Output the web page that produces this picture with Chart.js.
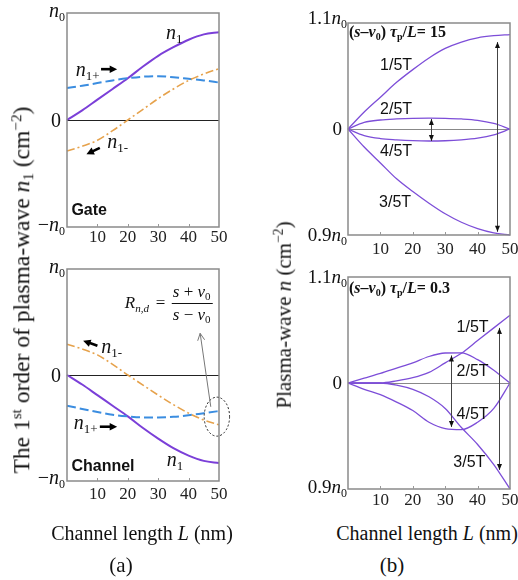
<!DOCTYPE html>
<html><head><meta charset="utf-8">
<script src="https://cdn.jsdelivr.net/npm/chart.js@4.4.0/dist/chart.umd.min.js"></script>
<style>
html,body{margin:0;padding:0;background:#fff;}
body{width:518px;height:580px;position:relative;overflow:hidden;color:#111;}
canvas{position:absolute;}
.t{position:absolute;white-space:nowrap;font-family:"Liberation Serif","Times New Roman",serif;color:#111;line-height:1;}
.sub{font-size:65%;vertical-align:-0.25em;}
.sup{font-size:65%;vertical-align:0.55em;}
</style></head><body>
<canvas id="c1" width="232" height="258" style="left:0;top:0"></canvas>
<canvas id="c2" width="232" height="258" style="left:0;top:256px"></canvas>
<canvas id="c3" width="240" height="258" style="left:290px;top:0"></canvas>
<canvas id="c4" width="240" height="262" style="left:290px;top:258px"></canvas>

<div class="t" style="left:22px;top:290px;font-size:23.5px;transform:translate(-50%,-50%) rotate(-90deg)">The 1<span class="sup">st</span> order of plasma-wave <i>n</i><span class="sub">1</span> (cm<span class="sup">−2</span>)</div>
<div class="t" style="left:283px;top:315px;font-size:21px;transform:translate(-50%,-50%) rotate(-90deg)">Plasma-wave <i>n</i> (cm<span class="sup">−2</span>)</div>
<div class="t" style="left:142px;top:533px;font-size:20px;transform:translate(-50%,-50%)">Channel length <i>L</i> (nm)</div>
<div class="t" style="left:427px;top:533px;font-size:20px;transform:translate(-50%,-50%)">Channel length <i>L</i> (nm)</div>
<div class="t" style="left:121px;top:565px;font-size:21px;transform:translate(-50%,-50%)">(a)</div>
<div class="t" style="left:392px;top:565px;font-size:21px;transform:translate(-50%,-50%)">(b)</div>

<script>
// ---------- data ----------
const L = [0, 5, 10, 15, 20, 25, 30, 35, 40, 45, 50];
const xTickLabels = [10, 20, 30, 40, 50];

// (a) Gate, values in units of n0
const gateN1  = [0, 0.09, 0.19, 0.29, 0.39, 0.50, 0.60, 0.68, 0.75, 0.80, 0.82];
const gateN1p = [0.30, 0.32, 0.345, 0.37, 0.39, 0.405, 0.41, 0.40, 0.385, 0.37, 0.35];
const gateN1m = [-0.29, -0.245, -0.19, -0.10, 0, 0.10, 0.20, 0.29, 0.37, 0.43, 0.48];
// (a) Channel
const chanN1  = [0, -0.09, -0.19, -0.29, -0.39, -0.50, -0.60, -0.69, -0.76, -0.81, -0.83];
const chanN1p = [-0.29, -0.32, -0.35, -0.375, -0.39, -0.40, -0.40, -0.395, -0.38, -0.36, -0.34];
const chanN1m = [0.29, 0.245, 0.19, 0.10, 0, -0.095, -0.19, -0.28, -0.36, -0.425, -0.47];

// (b) (s-v0)tau/L = 15, n / n0
const hiT1 = [1.000, 1.016, 1.030, 1.044, 1.056, 1.067, 1.076, 1.082, 1.086, 1.088, 1.089];
const hiT2 = [1.000, 1.0062, 1.0085, 1.0095, 1.0101, 1.0103, 1.0101, 1.0095, 1.0082, 1.0052, 1.000];
const hiT3 = [1.000, 0.983, 0.968, 0.953, 0.941, 0.930, 0.920, 0.912, 0.906, 0.902, 0.900];
const hiT4 = [1.000, 0.9938, 0.991, 0.9898, 0.989, 0.9887, 0.9889, 0.9897, 0.9913, 0.9945, 1.000];
// (b) (s-v0)tau/L = 0.3
const loT1 = [1.000, 1.000, 1.000, 1.002, 1.005, 1.010, 1.019, 1.028, 1.040, 1.052, 1.064];
const loT2 = [1.000, 1.0045, 1.009, 1.014, 1.019, 1.025, 1.0283, 1.0285, 1.022, 1.012, 1.000];
const loT3 = [1.000, 1.000, 1.000, 0.998, 0.994, 0.987, 0.976, 0.958, 0.942, 0.923, 0.900];
const loT4 = [1.000, 0.994, 0.989, 0.982, 0.974, 0.963, 0.957, 0.956, 0.963, 0.976, 1.000];

// ---------- helpers ----------
const SERIF = '"Liberation Serif","Times New Roman",serif';
const SANS = '"Liberation Sans",Arial,sans-serif';
function fontStr(p) {
  return (p.i ? 'italic ' : '') + (p.b ? 'bold ' : '') + p.s + 'px ' + (p.sans ? SANS : SERIF);
}
function drawRich(ctx, x, y, parts, align) {
  let w = 0;
  parts.forEach(p => { ctx.font = fontStr(p); w += ctx.measureText(p.t).width + (p.dx || 0); });
  let cx = align === 'right' ? x - w : (align === 'center' ? x - w / 2 : x);
  ctx.textBaseline = 'alphabetic'; ctx.textAlign = 'left';
  parts.forEach(p => {
    ctx.font = fontStr(p); cx += (p.dx || 0);
    ctx.fillText(p.t, cx, y + (p.dy || 0));
    cx += ctx.measureText(p.t).width;
  });
  return w;
}
function head(ctx, x1, y1, x2, y2, len, wid) {
  const a = Math.atan2(y2 - y1, x2 - x1), c = Math.cos(a), s = Math.sin(a);
  ctx.beginPath(); ctx.moveTo(x2, y2);
  ctx.lineTo(x2 - len * c + wid / 2 * s, y2 - len * s - wid / 2 * c);
  ctx.lineTo(x2 - len * c - wid / 2 * s, y2 - len * s + wid / 2 * c);
  ctx.closePath(); ctx.fill();
}

const n0 = (s) => [{t: 'n', i: 1, s: s}, {t: '0', s: Math.round(s * 0.62), dy: 4}];
const tx = (t, s, o) => Object.assign({t, s}, o || {});

const DECO = {
  c1: {
    zero: 0, zeroColor: '#222',
    yLabels: [
      {v: 1, parts: n0(20), dy: 4, gap: 2},
      {v: 0, parts: [tx('0', 20)], dy: 7, gap: 6},
      {v: -1, parts: [tx('−', 20)].concat(n0(20)), dy: 4, gap: 2}
    ],
    texts: [
      {x: 32.6, y: 0.76, parts: [tx('n', 20, {i: 1}), tx('1', 13, {dy: 4})]},
      {x: 2.9, y: 0.41, parts: [tx('n', 20, {i: 1}), tx('1+', 13, {dy: 4})]},
      {x: 13.2, y: -0.26, parts: [tx('n', 20, {i: 1}), tx('1-', 13, {dy: 4})]},
      {x: 1.45, y: -0.89, parts: [tx('Gate', 16, {b: 1, sans: 1})]}
    ],
    arrows: [
      {type: 'bold', from: [11.2, 0.475], to: [16.5, 0.475]},
      {type: 'bold', from: [10.8, -0.26], to: [6.4, -0.32]}
    ]
  },
  c2: {
    zero: 0, zeroColor: '#222',
    yLabels: [
      {v: 1, parts: n0(20), dy: 4, gap: 2},
      {v: 0, parts: [tx('0', 20)], dy: 7, gap: 6},
      {v: -1, parts: [tx('−', 20)].concat(n0(20)), dy: 3, gap: 2}
    ],
    texts: [
      {x: 11.3, y: 0.205, parts: [tx('n', 20, {i: 1}), tx('1-', 13, {dy: 4})]},
      {x: 2.2, y: -0.512, parts: [tx('n', 20, {i: 1}), tx('1+', 13, {dy: 4})]},
      {x: 32.8, y: -0.86, parts: [tx('n', 20, {i: 1}), tx('1', 13, {dy: 4})]},
      {x: 1.45, y: -0.91, parts: [tx('Channel', 16, {b: 1, sans: 1})]}
    ],
    arrows: [
      {type: 'bold', from: [10.0, 0.276], to: [5.3, 0.324]},
      {type: 'bold', from: [10.8, -0.488], to: [16.5, -0.488]},
      {type: 'open', from: [47.3, -0.30], to: [43.8, 0.393]}
    ],
    ellipse: {x: 49.3, y: -0.393, rx: 12.7, ry: 19.5},
    formula: {x: 19, y: 0.63}
  },
  c3: {
    zero: 1, zeroColor: '#888',
    yLabels: [
      {v: 1.1, parts: [tx('1.1', 19)].concat(n0(19)), dy: 1, gap: 1},
      {v: 1.0, parts: [tx('0', 19)], dy: 6, gap: 6},
      {v: 0.9, parts: [tx('0.9', 19)].concat(n0(19)), dy: 6, gap: 1}
    ],
    texts: [
      {x: 0.3, y: 1.087, parts: [tx('(', 16, {b: 1}), tx('s', 16, {b: 1, i: 1}), tx('–', 16, {b: 1}), tx('v', 16, {b: 1, i: 1}), tx('0', 10, {b: 1, dy: 3}), tx(')', 16, {b: 1}), tx(' τ', 16, {b: 1, i: 1}), tx('p', 10, {b: 1, dy: 3}), tx('/', 16, {b: 1}), tx('L', 16, {b: 1, i: 1}), tx('= 15', 16, {b: 1})]},
      {x: 9.9, y: 1.0556, parts: [tx('1/5T', 16, {sans: 1})]},
      {x: 9.9, y: 1.0141, parts: [tx('2/5T', 16, {sans: 1})]},
      {x: 9.9, y: 0.9746, parts: [tx('4/5T', 16, {sans: 1})]},
      {x: 9.6, y: 0.9268, parts: [tx('3/5T', 16, {sans: 1})]}
    ],
    arrows: [
      {type: 'double', from: [46, 1.082], to: [46, 0.903]},
      {type: 'double', from: [25.6, 1.0094], to: [25.6, 0.9887]}
    ]
  },
  c4: {
    zero: 1, zeroColor: '#888',
    yLabels: [
      {v: 1.1, parts: [tx('1.1', 19)].concat(n0(19)), dy: 6, gap: 1},
      {v: 1.0, parts: [tx('0', 19)], dy: 6, gap: 6},
      {v: 0.9, parts: [tx('0.9', 19)].concat(n0(19)), dy: 4, gap: 1}
    ],
    texts: [
      {x: 0.3, y: 1.0846, parts: [tx('(', 16, {b: 1}), tx('s', 16, {b: 1, i: 1}), tx('–', 16, {b: 1}), tx('v', 16, {b: 1, i: 1}), tx('0', 10, {b: 1, dy: 3}), tx(')', 16, {b: 1}), tx(' τ', 16, {b: 1, i: 1}), tx('p', 10, {b: 1, dy: 3}), tx('/', 16, {b: 1}), tx('L', 16, {b: 1, i: 1}), tx('= 0.3', 16, {b: 1})]},
      {x: 33.5, y: 1.0484, parts: [tx('1/5T', 16, {sans: 1})]},
      {x: 33.5, y: 1.0066, parts: [tx('2/5T', 16, {sans: 1})]},
      {x: 33.5, y: 0.9657, parts: [tx('4/5T', 16, {sans: 1})]},
      {x: 32.5, y: 0.921, parts: [tx('3/5T', 16, {sans: 1})]}
    ],
    arrows: [
      {type: 'double', from: [46.6, 1.052], to: [46.6, 0.918]},
      {type: 'double', from: [31.8, 1.026], to: [31.8, 0.9585]}
    ]
  }
};

const deco = {
  id: 'deco',
  beforeDatasetsDraw(chart) {
    const o = DECO[chart.canvas.id]; const {ctx, chartArea: a} = chart; const y = chart.scales.y;
    ctx.save();
    ctx.strokeStyle = o.zeroColor; ctx.lineWidth = 1;
    const y0 = Math.round(y.getPixelForValue(o.zero)) + 0.5;
    ctx.beginPath(); ctx.moveTo(a.left, y0); ctx.lineTo(a.right, y0); ctx.stroke();
    ctx.restore();
  },
  afterDatasetsDraw(chart) {
    const o = DECO[chart.canvas.id]; const {ctx, chartArea: a} = chart;
    const X = chart.scales.x, Y = chart.scales.y;
    const px = v => X.getPixelForValue(v), py = v => Y.getPixelForValue(v);
    ctx.save();
    // frame
    ctx.strokeStyle = '#8a8a8a'; ctx.lineWidth = 1.5;
    ctx.strokeRect(a.left, a.top, a.right - a.left, a.bottom - a.top);
    // inward tick marks
    ctx.lineWidth = 1; ctx.strokeStyle = '#999';
    X.ticks.forEach(t => {
      if (t.value > 0 && t.value < 50) {
        const xx = Math.round(px(t.value)) + 0.5;
        ctx.beginPath(); ctx.moveTo(xx, a.bottom); ctx.lineTo(xx, a.bottom - 3); ctx.stroke();
      }
    });
    // y labels
    ctx.fillStyle = '#111';
    o.yLabels.forEach(l => drawRich(ctx, a.left - l.gap, py(l.v) + l.dy, l.parts, 'right'));
    // texts
    o.texts.forEach(t => drawRich(ctx, px(t.x), py(t.y), t.parts, 'left'));
    // arrows
    o.arrows.forEach(ar => {
      const x1 = px(ar.from[0]), y1 = py(ar.from[1]), x2 = px(ar.to[0]), y2 = py(ar.to[1]);
      const ang = Math.atan2(y2 - y1, x2 - x1);
      if (ar.type === 'bold') {
        ctx.strokeStyle = '#000'; ctx.fillStyle = '#000'; ctx.lineWidth = 2.6;
        ctx.beginPath(); ctx.moveTo(x1, y1); ctx.lineTo(x2 - 5 * Math.cos(ang), y2 - 5 * Math.sin(ang)); ctx.stroke();
        head(ctx, x1, y1, x2, y2, 7.5, 7.5);
      } else if (ar.type === 'double') {
        ctx.strokeStyle = '#444'; ctx.fillStyle = '#111'; ctx.lineWidth = 1;
        ctx.beginPath(); ctx.moveTo(Math.round(x1) + 0.5, y1); ctx.lineTo(Math.round(x2) + 0.5, y2); ctx.stroke();
        head(ctx, x2, y2, Math.round(x1) + 0.5, y1, 6, 5);
        head(ctx, x1, y1, Math.round(x2) + 0.5, y2, 6, 5);
      } else {
        ctx.strokeStyle = '#777'; ctx.lineWidth = 1;
        ctx.beginPath(); ctx.moveTo(x1, y1); ctx.lineTo(x2, y2); ctx.stroke();
        const len = 7, w = 3.5;
        ctx.beginPath();
        ctx.moveTo(x2 - len * Math.cos(ang) + w * Math.sin(ang), y2 - len * Math.sin(ang) - w * Math.cos(ang));
        ctx.lineTo(x2, y2);
        ctx.lineTo(x2 - len * Math.cos(ang) - w * Math.sin(ang), y2 - len * Math.sin(ang) + w * Math.cos(ang));
        ctx.stroke();
      }
    });
    // ellipse
    if (o.ellipse) {
      const e = o.ellipse;
      ctx.strokeStyle = '#222'; ctx.lineWidth = 1; ctx.setLineDash([2, 2]);
      ctx.beginPath(); ctx.ellipse(px(e.x), py(e.y), e.rx, e.ry, 0, 0, Math.PI * 2); ctx.stroke();
      ctx.setLineDash([]);
    }
    // formula
    if (o.formula) {
      const fx = px(o.formula.x), fy = py(o.formula.y);
      ctx.fillStyle = '#111';
      drawRich(ctx, fx, fy, [tx('R', 17, {i: 1}), tx('n,d', 11, {i: 1, dy: 4})], 'left');
      drawRich(ctx, fx + 31, fy, [tx('=', 17)], 'left');
      drawRich(ctx, fx + 48, fy - 11.5, [tx('s', 17, {i: 1}), tx(' + ', 17), tx('v', 17, {i: 1}), tx('0', 11, {dy: 3})], 'left');
      drawRich(ctx, fx + 48, fy + 12, [tx('s', 17, {i: 1}), tx(' − ', 17), tx('v', 17, {i: 1}), tx('0', 11, {dy: 3})], 'left');
      ctx.strokeStyle = '#111'; ctx.lineWidth = 1;
      ctx.beginPath(); ctx.moveTo(fx + 47, Math.round(fy - 5) + 0.5); ctx.lineTo(fx + 88, Math.round(fy - 5) + 0.5); ctx.stroke();
    }
    ctx.restore();
  }
};

function ds(values, color, width, dash) {
  return {
    data: L.map((x, i) => ({x: x, y: values[i]})),
    borderColor: color, borderWidth: width, borderDash: dash || [],
    pointRadius: 0, fill: false, cubicInterpolationMode: 'monotone', clip: 4
  };
}

function makeChart(id, datasets, g) {
  return new Chart(document.getElementById(id), {
    type: 'line',
    data: {datasets: datasets},
    options: {
      responsive: false, animation: false, devicePixelRatio: 1,
      layout: {padding: {left: g.pl, top: g.pt, right: g.pr, bottom: 0}},
      scales: {
        x: {
          type: 'linear', min: 0, max: 50,
          afterFit: s => { s.height = g.xh; },
          grid: {display: false}, border: {display: false},
          ticks: {
            stepSize: 10, autoSkip: false, maxRotation: 0, padding: g.tp, color: '#222',
            font: {family: SERIF, size: 17},
            callback: v => (xTickLabels.includes(v) ? String(v) : '')
          }
        },
        y: {type: 'linear', display: false, min: g.ymin, max: g.ymax}
      },
      plugins: {legend: {display: false}, tooltip: {enabled: false}}
    },
    plugins: [deco]
  });
}

const PURPLE = '#7b3fd8', BLUE = '#3b8de0', ORANGE = '#e6a24c', VIOLET = '#7d4ed8';

makeChart('c1', [
  ds(gateN1m, ORANGE, 1.6, [8, 3, 2, 3]),
  ds(gateN1p, BLUE, 2, [9, 4]),
  ds(gateN1, PURPLE, 2)
], {pl: 67, pt: 13, pr: 13, xh: 258 - 227, tp: -8, ymin: -1, ymax: 1});

makeChart('c2', [
  ds(chanN1m, ORANGE, 1.6, [8, 3, 2, 3]),
  ds(chanN1p, BLUE, 2, [9, 4]),
  ds(chanN1, PURPLE, 2)
], {pl: 67, pt: 13, pr: 13, xh: 258 - 225, tp: -5, ymin: -1, ymax: 1});

makeChart('c3', [
  ds(hiT1, VIOLET, 1.3), ds(hiT2, VIOLET, 1.3), ds(hiT3, VIOLET, 1.3), ds(hiT4, VIOLET, 1.3)
], {pl: 58, pt: 23, pr: 20, xh: 258 - 235, tp: -4, ymin: 0.9, ymax: 1.1});

makeChart('c4', [
  ds(loT1, VIOLET, 1.3), ds(loT2, VIOLET, 1.3), ds(loT3, VIOLET, 1.3), ds(loT4, VIOLET, 1.3)
], {pl: 58, pt: 19, pr: 20, xh: 262 - 231, tp: -7, ymin: 0.9, ymax: 1.1});
</script>
</body></html>
